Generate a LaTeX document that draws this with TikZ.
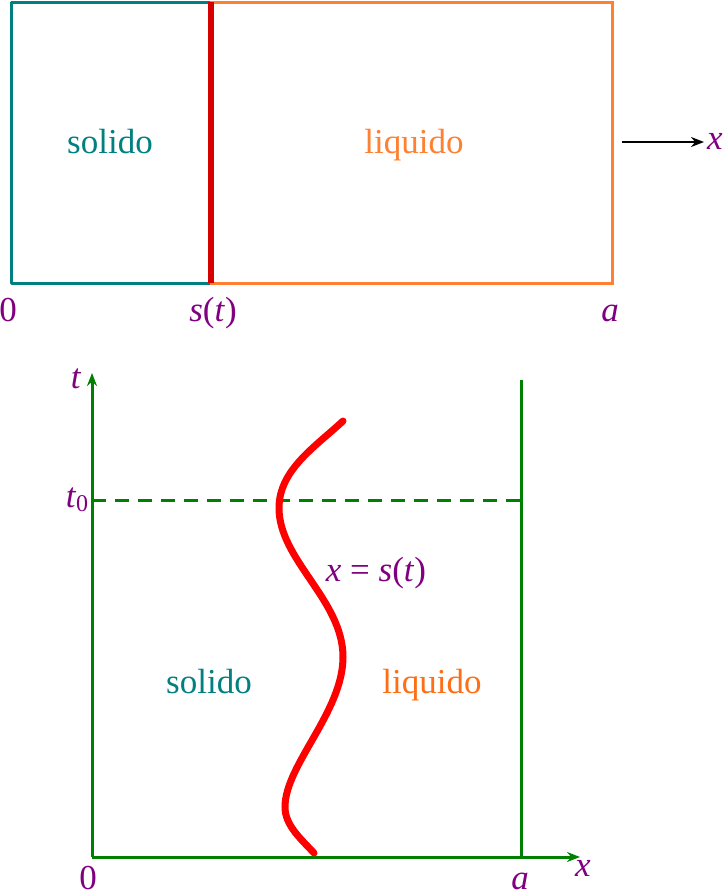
\documentclass[tikz,border=0pt]{standalone}
\usepackage{fontspec}
\setmainfont{Liberation Serif}
\usetikzlibrary{arrows.meta}
\definecolor{tealc}{RGB}{0,128,128}
\definecolor{orangec}{RGB}{255,128,48}
\definecolor{darkredc}{RGB}{215,0,0}
\definecolor{purplec}{RGB}{128,0,128}
\definecolor{greenc}{RGB}{0,128,0}
\definecolor{liqc}{RGB}{255,110,20}
\tikzset{
  lbl/.style={inner sep=0pt, anchor=base, text=purplec, font=\fontsize{35}{42}\selectfont},
  word/.style={inner sep=0pt, anchor=base, font=\fontsize{35}{42}\selectfont},
  axis/.style={draw=greenc, line width=3pt},
  tip/.style={-{Stealth[length=13pt,width=10pt]}},
}
\begin{document}
\begin{tikzpicture}[x=1pt,y=-1pt]
\useasboundingbox (0,0) rectangle (725,895);
% top picture
\coordinate (tl) at (11,2);
\coordinate (tb) at (211,283);
\coordinate (tt) at (211,2);
\coordinate (tr) at (612,283);
\draw[tealc, line width=3pt, line join=round] (tl) rectangle (tb);
\draw[orangec, line width=3pt] (tt) rectangle (tr);
\draw[darkredc, line width=6pt] (tt) -- (tb);
\node[word, text=tealc] (sol1) at (110,153) {solido};
\node[word, text=orangec] (liq1) at (414,153) {liquido};
\coordinate (ax1) at (622,142);
\coordinate (ax2) at (704,142);
\node[lbl, anchor=base west] (x1) at (707,149) {\textit{x}};
\draw[black, line width=2pt, tip] (ax1) -- (ax2);
\node[lbl] (zero1) at (8,321) {0};
\node[lbl] (s1) at (213,321) {\textit{s}(\textit{t})};
\node[lbl] (a1) at (610,321) {\textit{a}};
% bottom picture
\coordinate (o) at (92,857);
\coordinate (ytop) at (92,373);
\coordinate (xend) at (580,857);
\coordinate (ab) at (521,857);
\coordinate (at) at (521,380);
\coordinate (d0) at (92,500);
\coordinate (d1) at (521,500);
\draw[axis] (ab) -- (at);
\draw[greenc, line width=3pt, dash pattern=on 14pt off 9pt] (d0) -- (d1);
\draw[axis, tip] (o) -- (ytop);
\draw[axis, tip] (o) -- (xend);
\node[lbl] (tlab) at (76,388) {\textit{t}};
\node[lbl] (t0lab) at (77,507) {\textit{t}\raisebox{-0.3ex}{\fontsize{24}{28}\selectfont 0}};
\node[lbl] (xlab) at (583,876) {\textit{x}};
\node[lbl] (zero2) at (88,889) {0};
\node[lbl] (a2) at (520,889) {\textit{a}};
\node[word, text=tealc] (sol2) at (209,693) {solido};
\node[word, text=liqc] (liq2) at (432,693) {liquido};
\node[lbl] (eq) at (376,581) {\textit{x}\hspace{0.25em}=\hspace{0.25em}\textit{s}(\textit{t})};
\draw[red, line width=7pt, line cap=round]
  (314,853) .. controls (300,838) and (285,825) .. (285,807)
  .. controls (285,765) and (343,712) .. (343,657)
  .. controls (343,600) and (279,560) .. (279,508)
  .. controls (279,470) and (315,447) .. (343,421);
\end{tikzpicture}
\end{document}
